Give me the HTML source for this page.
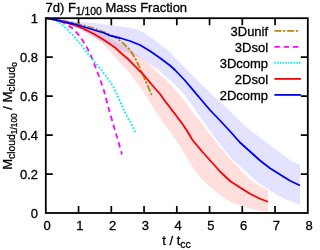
<!DOCTYPE html>
<html><head><meta charset="utf-8"><style>
html,body{margin:0;padding:0;background:#fff;}
body{width:320px;height:250px;overflow:hidden;}
svg{display:block;will-change:transform;}
text{font-family:"Liberation Sans",sans-serif;font-size:13px;fill:#000;stroke:#000;stroke-width:0.3px;}
</style></head><body>
<svg width="320" height="250" viewBox="0 0 320 250">
<rect width="320" height="250" fill="#fff"/>
<path d="M46.00,18.20 L64.00,21.00 L80.00,25.50 L100.00,33.00 L115.00,41.00 L130.00,49.00 L142.50,59.00 L155.00,70.00 L170.00,83.75 L177.50,92.50 L187.50,105.00 L193.75,114.00 L200.00,121.25 L207.50,131.25 L215.00,140.50 L222.50,150.00 L230.00,158.75 L237.50,166.25 L245.00,175.00 L255.00,183.30 L268.00,190.20 L268.00,211.75 L260.00,210.75 L250.00,208.75 L240.00,205.50 L230.00,201.50 L220.00,195.00 L210.00,187.00 L200.00,177.50 L190.00,163.00 L181.25,148.00 L172.50,135.00 L167.50,128.50 L162.50,121.50 L156.00,112.00 L148.00,99.00 L138.00,84.00 L128.00,71.00 L117.50,60.00 L110.00,51.00 L104.00,45.00 L94.00,37.00 L84.00,31.00 L80.00,28.75 L64.00,23.00 L46.00,18.20Z" fill="#ff0000" fill-opacity="0.13"/>
<path d="M46.00,18.20 L60.00,19.50 L78.00,22.00 L94.00,23.00 L110.00,25.00 L120.00,26.40 L130.00,27.80 L137.00,29.50 L142.00,31.80 L150.00,36.80 L160.00,44.00 L170.00,52.00 L177.50,60.00 L187.50,70.00 L197.50,80.50 L207.50,90.00 L212.50,95.00 L220.00,101.50 L230.00,111.25 L240.00,121.25 L250.00,130.00 L260.00,137.50 L270.00,145.00 L280.00,152.50 L290.00,160.00 L300.00,165.00 L300.00,204.80 L296.00,203.30 L286.00,199.50 L276.00,194.30 L268.00,189.30 L256.00,181.00 L246.00,171.80 L240.00,166.30 L230.00,157.00 L222.50,147.50 L215.00,137.50 L207.50,127.50 L200.00,116.50 L190.00,102.50 L182.50,92.50 L170.00,80.00 L165.00,76.25 L158.75,70.00 L152.50,66.25 L140.00,57.50 L120.00,49.60 L100.00,40.50 L80.00,29.50 L64.00,22.50 L46.00,18.20Z" fill="#0000ff" fill-opacity="0.11"/>
<path d="M78.55,213.0 v-7 M78.55,18.2 v7 M111.30,213.0 v-7 M111.30,18.2 v7 M144.05,213.0 v-7 M144.05,18.2 v7 M176.80,213.0 v-7 M176.80,18.2 v7 M209.55,213.0 v-7 M209.55,18.2 v7 M242.30,213.0 v-7 M242.30,18.2 v7 M275.05,213.0 v-7 M275.05,18.2 v7 M45.8,174.04 h7 M307.8,174.04 h-7 M45.8,135.08 h7 M307.8,135.08 h-7 M45.8,96.12 h7 M307.8,96.12 h-7 M45.8,57.16 h7 M307.8,57.16 h-7" stroke="#000" stroke-width="1.7" fill="none"/>
<path d="M46.00,18.20 L55.00,19.50 L64.00,21.00 L74.00,23.00 L84.00,25.60 L94.00,28.40 L104.00,32.00 L115.00,37.00 L123.75,43.75 L130.00,50.00 L135.60,59.00 L141.20,71.00 L146.80,83.75 L151.80,95.00" stroke="#b8860b" stroke-width="1.8" fill="none" stroke-dasharray="7,1.7,2.3,1.7" stroke-dashoffset="8.7"/>
<path d="M46.00,18.20 L50.00,18.60 L56.00,19.60 L64.00,23.00 L72.00,28.00 L78.00,34.00 L82.80,40.80 L87.40,48.40 L91.20,56.00 L95.00,65.80 L98.80,75.70 L103.75,90.00 L108.00,106.25 L112.00,120.00 L113.75,126.25 L117.50,138.75 L122.00,154.50" stroke="#ff00ff" stroke-width="1.8" fill="none" stroke-dasharray="5.3,3.9" stroke-dashoffset="3.4"/>
<path d="M46.00,18.20 L50.00,18.80 L56.00,20.60 L64.00,26.30 L72.00,34.20 L80.00,43.20 L86.00,51.40 L91.20,58.00 L96.00,63.50 L101.10,69.50 L107.20,77.50 L113.75,87.50 L120.00,101.25 L126.25,115.00 L130.00,121.25 L135.50,132.50" stroke="#00eeee" stroke-width="1.8" fill="none" stroke-dasharray="1.8,1.7"/>
<path d="M46.00,18.20 L55.00,19.80 L64.00,22.00 L74.00,25.00 L84.00,29.00 L94.00,34.00 L104.00,40.00 L115.00,47.50 L122.00,54.00 L127.50,58.50 L133.75,64.80 L138.75,70.00 L142.50,73.50 L152.50,85.50 L160.00,94.00 L165.00,101.00 L175.00,114.00 L182.50,124.00 L187.50,131.50 L192.50,140.00 L202.50,152.00 L212.50,163.00 L220.00,171.50 L230.00,181.00 L240.00,187.50 L250.00,193.75 L260.00,198.75 L268.00,201.75" stroke="#ff0000" stroke-width="1.8" fill="none" stroke-linejoin="round"/>
<path d="M46.00,18.20 L55.00,19.60 L64.00,21.80 L74.00,24.00 L84.00,27.00 L94.00,30.00 L104.00,33.00 L110.00,35.60 L120.00,38.00 L130.00,41.00 L140.00,45.00 L150.00,51.00 L160.00,58.00 L170.00,65.50 L175.00,70.00 L185.00,80.50 L193.75,90.80 L201.00,99.50 L210.00,110.00 L220.00,120.50 L230.00,131.25 L240.00,142.50 L250.00,151.50 L260.00,160.50 L270.00,168.20 L280.00,174.60 L290.00,180.80 L300.00,185.50" stroke="#0000ff" stroke-width="1.8" fill="none" stroke-linejoin="round"/>
<rect x="45.8" y="18.2" width="262.0" height="194.8" fill="none" stroke="#000" stroke-width="1.8"/>
<text x="268.1" y="35.60" text-anchor="end">3Dunif</text>
<path d="M274.4,30.90 H298.6" stroke="#b8860b" stroke-width="1.8" fill="none" stroke-dasharray="7,1.7,2.3,1.7"/>
<text x="268.1" y="51.60" text-anchor="end">3Dsol</text>
<path d="M274.4,46.90 H300.9" stroke="#ff00ff" stroke-width="1.8" fill="none" stroke-dasharray="5.3,4"/>
<text x="268.1" y="67.60" text-anchor="end">3Dcomp</text>
<path d="M274.4,62.90 H300.9" stroke="#00eeee" stroke-width="1.8" fill="none" stroke-dasharray="1.5,1.25"/>
<text x="268.1" y="83.60" text-anchor="end">2Dsol</text>
<path d="M274.4,78.90 H300.9" stroke="#ff0000" stroke-width="1.8" fill="none"/>
<text x="268.1" y="99.60" text-anchor="end">2Dcomp</text>
<path d="M274.4,94.90 H300.9" stroke="#0000ff" stroke-width="1.8" fill="none"/>
<text x="47.10" y="230.2" text-anchor="middle">0</text>
<text x="79.85" y="230.2" text-anchor="middle">1</text>
<text x="112.60" y="230.2" text-anchor="middle">2</text>
<text x="145.35" y="230.2" text-anchor="middle">3</text>
<text x="178.10" y="230.2" text-anchor="middle">4</text>
<text x="210.85" y="230.2" text-anchor="middle">5</text>
<text x="243.60" y="230.2" text-anchor="middle">6</text>
<text x="276.35" y="230.2" text-anchor="middle">7</text>
<text x="309.10" y="230.2" text-anchor="middle">8</text>
<text x="38" y="218.20" text-anchor="end">0</text>
<text x="38" y="179.24" text-anchor="end">0.2</text>
<text x="38" y="140.28" text-anchor="end">0.4</text>
<text x="38" y="101.32" text-anchor="end">0.6</text>
<text x="38" y="62.36" text-anchor="end">0.8</text>
<text x="38" y="23.40" text-anchor="end">1</text>
<text x="45.5" y="11.6">7d) F<tspan font-size="10.40" dy="3.4">1/100</tspan><tspan dy="-3.4"> Mass Fraction</tspan></text>
<text x="162.3" y="244.6">t / t<tspan font-size="10.40" dy="3.2">cc</tspan></text>
<text transform="translate(11.8,116) rotate(-90)" text-anchor="middle">M<tspan font-size="10.40" dy="3.3">cloud</tspan><tspan font-size="8.32" dy="2">1/100</tspan><tspan dy="-5.3"> / M</tspan><tspan font-size="10.40" dy="3.3">cloud</tspan><tspan font-size="8.32" dy="1.7">o</tspan></text>
</svg>
</body></html>
